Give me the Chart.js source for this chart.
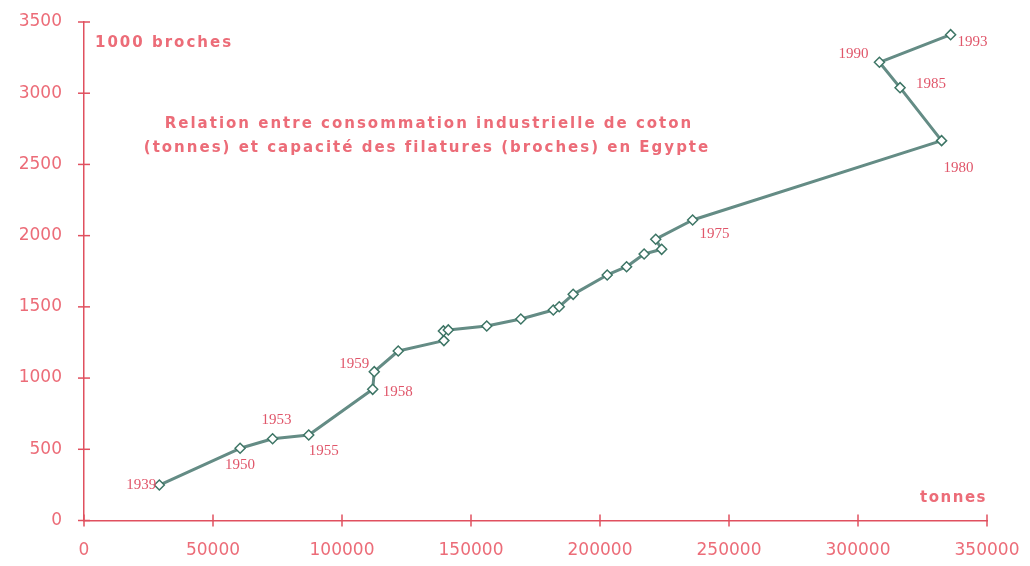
<!DOCTYPE html>
<html>
<head>
<meta charset="utf-8">
<script src="https://cdn.jsdelivr.net/npm/chart.js@4/dist/chart.umd.min.js"></script>
<style>
html,body{margin:0;padding:0;background:#fff;}
#wrap{width:1030px;height:566px;}
</style>
</head>
<body>
<div id="wrap"><canvas id="c" width="1030" height="566"></canvas></div>
<script>
// consommation (tonnes) -> capacite (1000 broches)
const tonnes = [29200, 60500, 73100, 87100, 111900, 112500, 121800, 139500, 139300, 141200, 156100, 169300, 181900, 184200, 189600, 202800, 210300, 217100, 223900, 221600, 235900, 332400, 316300, 308300, 335900];
const broches = [249, 507, 574, 600, 921, 1045, 1190, 1263, 1331, 1338, 1366, 1415, 1478, 1501, 1588, 1724, 1782, 1871, 1904, 1975, 2110, 2667, 3039, 3217, 3411];
const years = ["1939", "1950", "1953", "1955", "1958", "1959", "", "", "", "", "", "", "", "", "", "", "", "", "", "", "1975", "1980", "1985", "1990", "1993"];
const xTicks = [0, 50000, 100000, 150000, 200000, 250000, 300000, 350000];
const yTicks = [0, 500, 1000, 1500, 2000, 2500, 3000, 3500];

// where each year label sits relative to its point
const labelPos = {
"1939": [-3, 0, "right"], "1950": [0, 17, "center"], "1953": [4, -19, "center"],
"1955": [15, 16, "center"], "1958": [10, 3, "left"], "1959": [-5, -8, "right"],
"1975": [22, 14, "center"], "1980": [17, 27, "center"], "1985": [16, -4, "left"],
"1990": [-26, -8, "center"], "1993": [22, 7, "center"]
};

const red = "#ec6c78";
const axisRed = "#e0505f";

let points = tonnes.map((t, i) => ({x: t, y: broches[i]}));

const decor = {
id: "decor",
afterDraw(chart){
const ctx = chart.ctx;
const xs = chart.scales.x, ys = chart.scales.y;
const a = chart.chartArea;
ctx.save();
// crossing tick marks
ctx.strokeStyle = axisRed;
ctx.lineWidth = 1.5;
xTicks.forEach(v => {
let px = xs.getPixelForValue(v);
ctx.beginPath(); ctx.moveTo(px, a.bottom - 6); ctx.lineTo(px, a.bottom + 6); ctx.stroke();
});
yTicks.forEach(v => {
let py = ys.getPixelForValue(v);
ctx.beginPath(); ctx.moveTo(a.left - 6, py); ctx.lineTo(a.left + 6, py); ctx.stroke();
});
// axis titles
ctx.fillStyle = red;
ctx.font = "bold 15px 'DejaVu Sans'";
ctx.letterSpacing = "2px";
ctx.textBaseline = "middle";
ctx.textAlign = "left";
ctx.fillText("1000 broches", a.left + 11, 43);
ctx.letterSpacing = "1.5px";
ctx.textAlign = "right";
ctx.fillText("tonnes", a.right, 498);
// title
ctx.letterSpacing = "2px";
ctx.textAlign = "center";
ctx.fillText("Relation entre consommation industrielle de coton", 429, 124);
ctx.fillText("(tonnes) et capacité des filatures (broches) en Egypte", 427, 148);
// year labels
ctx.letterSpacing = "0px";
ctx.font = "15px 'Liberation Serif'";
ctx.fillStyle = "#e0566a";
years.forEach((yr, i) => {
if(!yr) return;
let p = labelPos[yr];
ctx.textAlign = p[2];
ctx.fillText(yr, xs.getPixelForValue(tonnes[i]) + p[0], ys.getPixelForValue(broches[i]) + p[1]);
});
ctx.restore();
}
};

new Chart(document.getElementById("c"), {
type: "scatter",
data: {
datasets: [{
data: points,
showLine: true,
borderColor: "#648c85",
borderWidth: 3,
borderJoinStyle: "round",
borderCapStyle: "round",
pointStyle: "rectRot",
pointRadius: 5,
pointBorderColor: "#3d7565",
pointBorderWidth: 1.5,
pointBackgroundColor: "#ffffff",
tension: 0
}]
},
options: {
responsive: false,
animation: false,
events: [],
layout: {padding: {top: 22, right: 43, left: 0, bottom: 0}},
plugins: {legend: {display: false}, tooltip: {enabled: false}},
scales: {
x: {
type: "linear", min: 0, max: 350000,
afterBuildTicks: s => { s.ticks = xTicks.map(v => ({value: v})); },
afterFit: s => { s.height = 45.5; s.paddingLeft = 0; s.paddingRight = 0; },
grid: {drawOnChartArea: false, drawTicks: false},
border: {color: axisRed, width: 1.5},
ticks: {padding: 20, color: red, font: {family: "DejaVu Sans", size: 17}, maxRotation: 0,
callback: v => String(v)}
},
y: {
type: "linear", min: 0, max: 3500,
afterBuildTicks: s => { s.ticks = yTicks.map(v => ({value: v})); },
afterFit: s => { s.width = 84; s.paddingTop = 0; s.paddingBottom = 0; },
grid: {drawOnChartArea: false, drawTicks: false},
border: {color: axisRed, width: 1.5},
ticks: {padding: 22, color: red, font: {family: "DejaVu Sans", size: 17},
callback: v => String(v)}
}
}
},
plugins: [decor]
});
</script>
</body>
</html>
